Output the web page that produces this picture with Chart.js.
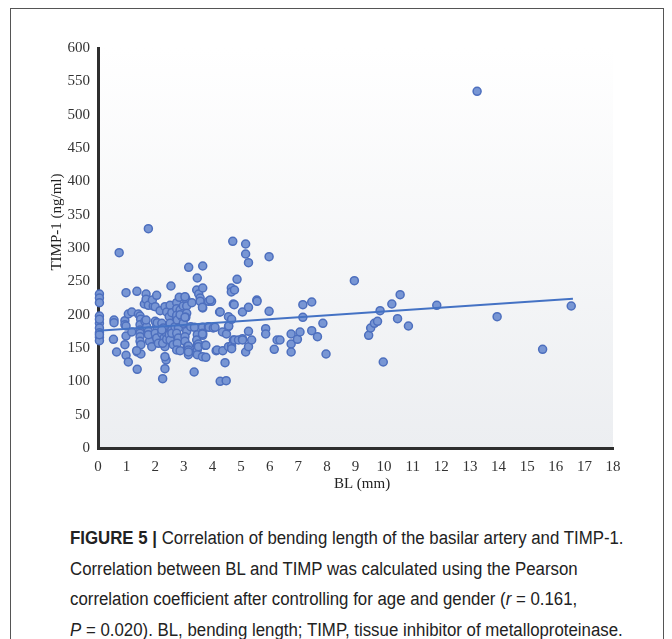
<!DOCTYPE html>
<html>
<head>
<meta charset="utf-8">
<script src="https://cdn.jsdelivr.net/npm/chart.js@4.4.1/dist/chart.umd.min.js"></script>
<style>
  body { margin: 0; background: #fff; width: 672px; height: 639px; overflow: hidden; position: relative; }
  #frame { position: absolute; left: 10px; top: 8px; width: 654px; height: 700px; border: 1px solid #555; box-sizing: border-box; }
  #wrap { position: absolute; left: 0; top: 0; width: 672px; height: 500px; }
  #cap { position: absolute; left: 70px; top: 523px; font-family: 'Liberation Sans', sans-serif; font-size: 18px; line-height: 30.5px; color: #222; white-space: nowrap; transform: scaleX(0.935); transform-origin: 0 0; }
</style>
</head>
<body>
<div id="frame"></div>
<div id="wrap"><canvas id="grafico"></canvas></div>
<div id="cap"><b>FIGURE 5 |</b> Correlation of bending length of the basilar artery and TIMP-1.<br>Correlation between BL and TIMP was calculated using the Pearson<br>correlation coefficient after controlling for age and gender (<i>r</i> = 0.161,<br><i>P</i> = 0.020). BL, bending length; TIMP, tissue inhibitor of metalloproteinase.</div>
<script>
// BL (mm) de cada paciente
const blMm = [
  0.05, 0.05, 0.05, 0.05, 0.05, 0.05, 0.05, 0.05, 0.05, 0.05, 0.05,
  0.56, 0.56, 0.54, 0.65, 0.74, 0.94, 0.94, 0.94, 0.98, 0.98, 0.98, 1.06, 1.06, 0.98,
  1.18, 1.18, 1.36, 1.37, 1.37, 1.41, 1.47, 1.49, 1.47, 1.47, 1.47, 1.47, 1.47, 1.50, 1.50, 1.35,
  1.62, 1.68, 1.68, 1.76, 1.76, 1.64, 1.70, 1.76, 1.82, 1.80, 1.88, 1.93, 1.90, 1.68, 1.76,
  2.00, 2.05, 2.00, 2.05, 2.00, 2.05, 2.11, 2.17, 2.07, 2.23, 2.28, 2.23, 2.31, 2.34, 2.34, 2.26, 2.26, 2.34, 2.38, 2.34, 2.40, 2.49, 2.40, 2.40, 2.23,
  2.55, 2.52, 2.58, 2.52, 2.58, 2.49, 2.52, 2.63, 2.58, 2.69, 2.75, 2.75, 2.84, 2.75, 2.75, 2.77, 2.81, 2.75, 2.81, 2.77, 2.75, 2.87, 2.87, 2.93, 2.98, 2.98, 2.87,
  3.07, 3.04, 3.10, 3.10, 3.07, 3.10, 3.04, 3.04, 3.12, 3.17, 3.28, 3.24, 3.16, 3.16, 3.16, 3.16, 3.37, 3.36, 3.47, 3.45, 3.52, 3.47, 3.45, 3.47, 3.47, 3.47, 3.04,
  3.57, 3.57, 3.66, 3.66, 3.66, 3.65, 3.65, 3.66, 3.66, 3.65, 3.51, 3.51, 3.74, 3.77, 3.65, 3.77, 3.86, 3.86, 3.97, 3.92, 3.88,
  4.03, 4.09, 4.13, 4.16, 4.25, 4.27, 4.36, 4.35, 4.49, 4.44, 4.27, 4.48,
  4.56, 4.56, 4.57, 4.56, 4.66, 4.66, 4.67, 4.67, 4.67, 4.71, 4.73, 4.73, 4.76, 4.77, 4.77, 4.86, 4.91,
  5.05, 5.05, 5.05, 5.16, 5.16, 5.16, 5.26, 5.26, 5.26, 5.26, 5.37,
  5.55, 5.56, 5.86, 5.86, 5.98, 5.98, 6.16, 6.26, 6.36,
  6.75, 6.75, 6.75, 6.97, 7.06, 7.16, 7.16, 7.47, 7.47, 7.67, 7.86, 7.97,
  8.96, 9.46, 9.53, 9.66, 9.77, 9.86, 9.97, 10.27, 10.47, 10.56, 10.85, 11.84, 13.25, 13.95, 15.54, 16.54
];
// TIMP-1 (ng/ml) de cada paciente
const timpNgMl = [
  231, 225, 218, 198, 187, 180, 173, 166, 161, 193, 170,
  192, 188, 163, 144, 293, 191, 185, 155, 233, 168, 139, 129, 201, 183,
  204, 174, 235, 118, 144, 201, 198, 193, 185, 177, 172, 167, 160, 155, 141, 146,
  216, 231, 223, 329, 214, 190, 182, 175, 167, 160, 152, 213, 222, 192, 170,
  212, 229, 190, 182, 172, 165, 157, 206, 188, 187, 180, 172, 165, 152, 212, 157, 104, 119, 132, 137, 204, 197, 171, 163, 177,
  243, 214, 203, 187, 177, 170, 162, 155, 172, 182, 194, 218, 226, 209, 199, 192, 180, 172, 165, 157, 147, 146, 207, 197, 187, 213, 200,
  224, 227, 213, 202, 196, 175, 167, 160, 152, 271, 218, 182, 153, 147, 140, 144, 181, 114, 255, 237, 231, 170, 162, 154, 147, 140, 196,
  225, 220, 273, 240, 210, 211, 181, 172, 169, 171, 156, 152, 154, 154, 137, 136, 220, 182, 220, 222, 181,
  180, 181, 146, 147, 204, 204, 146, 174, 171, 128, 100, 101,
  182, 197, 183, 152, 240, 234, 193, 153, 149, 310, 162, 216, 215, 237, 162, 253, 162,
  204, 164, 162, 306, 291, 144, 278, 211, 175, 152, 162,
  222, 220, 179, 171, 287, 205, 148, 162, 162,
  171, 156, 144, 163, 174, 215, 196, 219, 176, 167, 187, 141,
  251, 169, 180, 187, 190, 206, 129, 216, 194, 230, 183, 214, 535, 197, 148, 213
];
// recta de ajuste lineal
const ajusteX = [0, 16.6];
const ajusteY = [176, 224];

const ticksX = [0, 1, 2, 3, 4, 5, 6, 7, 8, 9, 10, 11, 12, 13, 14, 15, 16, 17, 18];
const ticksY = [0, 50, 100, 150, 200, 250, 300, 350, 400, 450, 500, 550, 600];

const puntos = blMm.map((x, i) => ({ x, y: timpNgMl[i] }));
const recta = ajusteX.map((x, i) => ({ x, y: ajusteY[i] }));

// fondo degradado del área de trazado + títulos de ejes
const fondoPlugin = {
  id: 'fondo',
  beforeDraw(chart) {
    const { ctx, chartArea: a } = chart;
    const g = ctx.createLinearGradient(0, a.top, 0, a.bottom);
    g.addColorStop(0, '#ffffff');
    g.addColorStop(1, '#eceef1');
    ctx.save();
    ctx.fillStyle = g;
    ctx.fillRect(a.left, a.top, a.right - a.left, a.bottom - a.top);
    ctx.restore();
  },
  afterDraw(chart) {
    const { ctx } = chart;
    ctx.save();
    ctx.fillStyle = '#222';
    ctx.font = '15px "Liberation Serif", serif';
    ctx.textAlign = 'center';
    ctx.textBaseline = 'middle';
    ctx.fillText('BL (mm)', 362, 484);
    ctx.translate(57, 222);
    ctx.rotate(-Math.PI / 2);
    ctx.fillText('TIMP-1 (ng/ml)', 0, 0);
    ctx.restore();
  }
};

const fuenteTicks = { family: '"Liberation Serif", serif', size: 15 };

new Chart(document.getElementById('grafico'), {
  type: 'scatter',
  data: {
    datasets: [
      { type: 'line', data: recta, borderColor: '#4472c4', borderWidth: 2, pointRadius: 0, fill: false, order: 0 },
      { data: puntos, backgroundColor: '#7896d4', borderColor: '#4d6fbe', borderWidth: 1.5, pointRadius: 4, clip: false, order: 1 }
    ]
  },
  options: {
    responsive: true,
    maintainAspectRatio: false,
    animation: false,
    layout: { padding: { top: 48, right: 59, left: 0, bottom: 0 } },
    plugins: { legend: { display: false }, tooltip: { enabled: false } },
    scales: {
      x: {
        type: 'linear', min: 0, max: 18,
        afterBuildTicks: s => { s.ticks = ticksX.map(v => ({ value: v })); },
        afterFit: s => { s.height = 52; },
        grid: { display: false, drawTicks: false },
        border: { display: true, color: '#2e2e2e', width: 3 },
        ticks: { color: '#333', font: fuenteTicks, padding: 10, maxRotation: 0, autoSkip: false }
      },
      y: {
        min: 0, max: 600,
        afterBuildTicks: s => { s.ticks = ticksY.map(v => ({ value: v })); },
        afterFit: s => { s.width = 98; },
        grid: { display: false, drawTicks: false },
        border: { display: true, color: '#2e2e2e', width: 3 },
        ticks: { color: '#333', font: fuenteTicks, padding: 8, autoSkip: false }
      }
    }
  },
  plugins: [fondoPlugin]
});
</script>
</body>
</html>
